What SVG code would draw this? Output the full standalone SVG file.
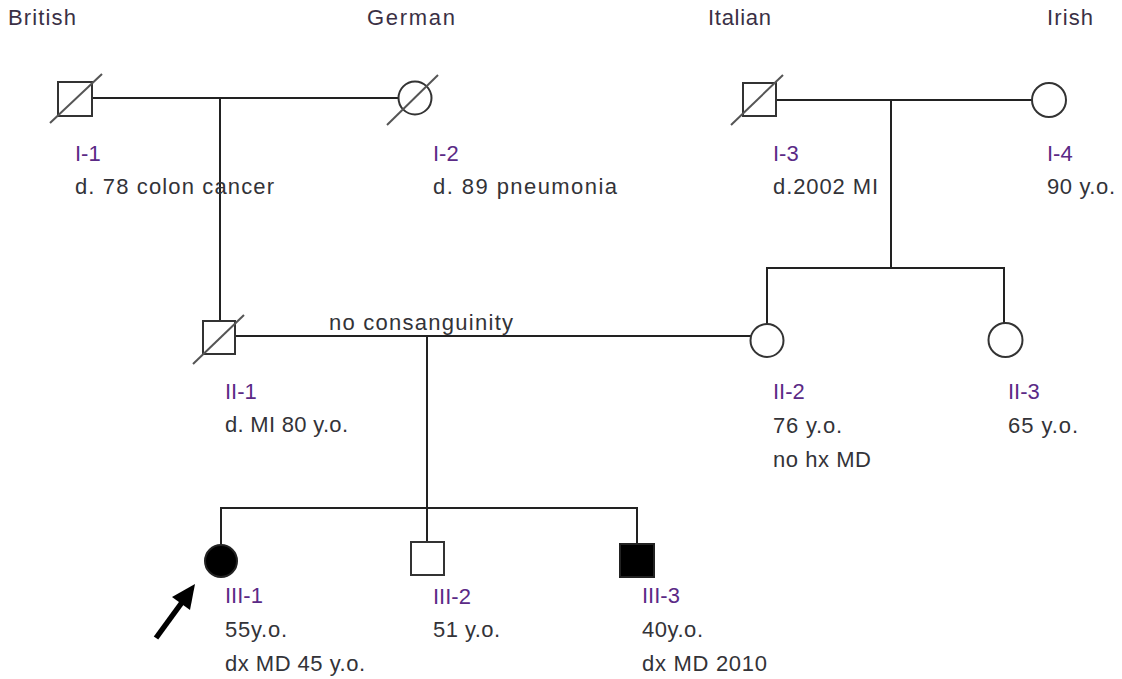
<svg xmlns="http://www.w3.org/2000/svg" width="1122" height="679" viewBox="0 0 1122 679">
<style>
text{font-family:"Liberation Sans",Arial,sans-serif;font-size:22px;fill:#333338}
.id{fill:#5b2a86}
.eth{fill:#3a3045}
.sym{fill:#fff;stroke:#333;stroke-width:2}
.aff{fill:#000;stroke:#222;stroke-width:2}
.dead{stroke:#555;stroke-width:2}
.ln{stroke:#222;stroke-width:2;fill:none}
</style>
<rect width="1122" height="679" fill="#fff"/>
<g id="connectors">
<line class="ln" x1="92" y1="98" x2="398" y2="98"/>
<line class="ln" x1="220" y1="98" x2="220" y2="321"/>
<line class="ln" x1="776" y1="100" x2="1032" y2="100"/>
<line class="ln" x1="891" y1="100" x2="891" y2="268"/>
<polyline class="ln" points="767,324 767,268 1004,268 1004,323"/>
<line class="ln" x1="235" y1="336" x2="751" y2="336"/>
<line class="ln" x1="427" y1="336" x2="427" y2="542"/>
<polyline class="ln" points="221,544 221,508 637,508 637,544"/>
</g>
<g id="ethnicity">
<text class="eth" x="8" y="25" textLength="68" lengthAdjust="spacing">British</text>
<text class="eth" x="367" y="25" textLength="88" lengthAdjust="spacing">German</text>
<text class="eth" x="708" y="25" textLength="63" lengthAdjust="spacing">Italian</text>
<text class="eth" x="1047" y="25" textLength="46" lengthAdjust="spacing">Irish</text>
</g>
<g id="I-1">
<rect class="sym" x="58" y="82" width="34" height="34"/>
<line class="dead" x1="50" y1="123" x2="102" y2="74"/>
<text class="id" x="75" y="161">I-1</text>
<text x="75" y="194" textLength="199" lengthAdjust="spacing">d. 78 colon cancer</text>
</g>
<g id="I-2">
<circle class="sym" cx="415" cy="98" r="16.5"/>
<line class="dead" x1="387" y1="125" x2="438" y2="75"/>
<text class="id" x="433" y="161">I-2</text>
<text x="433" y="194" textLength="184" lengthAdjust="spacing">d. 89 pneumonia</text>
</g>
<g id="I-3">
<rect class="sym" x="743" y="83" width="33" height="33"/>
<line class="dead" x1="731" y1="125" x2="783" y2="75"/>
<text class="id" x="773" y="161">I-3</text>
<text x="773" y="194" textLength="105" lengthAdjust="spacing">d.2002 MI</text>
</g>
<g id="I-4">
<circle class="sym" cx="1049" cy="100" r="17"/>
<text class="id" x="1047" y="161">I-4</text>
<text x="1047" y="194" textLength="68" lengthAdjust="spacing">90 y.o.</text>
</g>
<g id="II-1">
<rect class="sym" x="203" y="321" width="32" height="33"/>
<line class="dead" x1="193" y1="364" x2="244" y2="315"/>
<text class="id" x="225" y="399">II-1</text>
<text x="225" y="432" textLength="123" lengthAdjust="spacing">d. MI 80 y.o.</text>
</g>
<g id="marriage-label">
<text x="329" y="330" textLength="184" lengthAdjust="spacing">no consanguinity</text>
</g>
<g id="II-2">
<circle class="sym" cx="767" cy="340.5" r="16.5"/>
<text class="id" x="773" y="399">II-2</text>
<text x="773" y="433" textLength="69" lengthAdjust="spacing">76 y.o.</text>
<text x="773" y="467" textLength="98" lengthAdjust="spacing">no hx MD</text>
</g>
<g id="II-3">
<circle class="sym" cx="1005.5" cy="340" r="17"/>
<text class="id" x="1008" y="399">II-3</text>
<text x="1008" y="433" textLength="70" lengthAdjust="spacing">65 y.o.</text>
</g>
<g id="III-1">
<circle class="aff" cx="221" cy="561" r="16"/>
<text class="id" x="225" y="603">III-1</text>
<text x="225" y="637" textLength="62" lengthAdjust="spacing">55y.o.</text>
<text x="225" y="671" textLength="140" lengthAdjust="spacing">dx MD 45 y.o.</text>
</g>
<g id="proband-arrow">
<line x1="156" y1="638" x2="183" y2="601" stroke="#000" stroke-width="5.5"/>
<polygon points="195,584 172,597 190,610" fill="#000"/>
</g>
<g id="III-2">
<rect class="sym" x="411" y="542" width="33" height="33"/>
<text class="id" x="433" y="604">III-2</text>
<text x="433" y="637" textLength="67" lengthAdjust="spacing">51 y.o.</text>
</g>
<g id="III-3">
<rect class="aff" x="620" y="544" width="34" height="33"/>
<text class="id" x="642" y="603">III-3</text>
<text x="642" y="637" textLength="61" lengthAdjust="spacing">40y.o.</text>
<text x="642" y="671" textLength="125" lengthAdjust="spacing">dx MD 2010</text>
</g>
</svg>
